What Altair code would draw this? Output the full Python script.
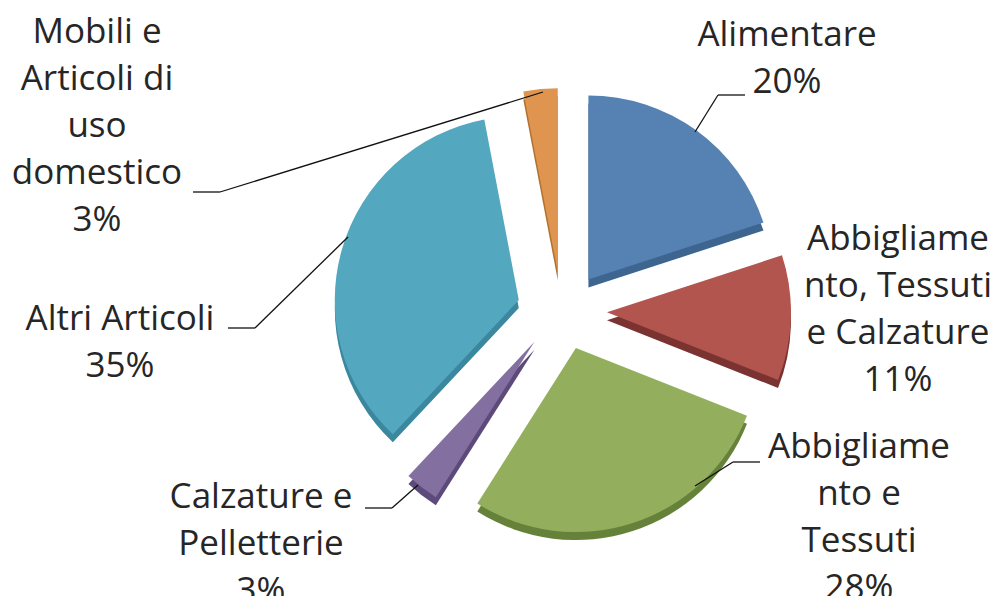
import altair as alt
import pandas as pd

# ---- data ----
categories = [
    "Alimentare",
    "Abbigliamento, Tessuti e Calzature",
    "Abbigliamento e Tessuti",
    "Calzature e Pelletterie",
    "Altri Articoli",
    "Mobili e Articoli di uso domestico",
]
values = [20, 11, 28, 3, 35, 3]
label_texts = [
    "Alimentare\n20%",
    "Abbigliame\nnto, Tessuti\ne Calzature\n11%",
    "Abbigliame\nnto e\nTessuti\n28%",
    "Calzature e\nPelletterie\n3%",
    "Altri Articoli\n35%",
    "Mobili e\nArticoli di\nuso\ndomestico\n3%",
]

# ---- styles / layout ----
face_colors = ["#5582b2", "#b3554f", "#93af5d", "#8470a0", "#53a8c0", "#df9550"]
side_colors = ["#3d6590", "#7a3330", "#66823a", "#5c4a7a", "#3a879e", "#b0722f"]
M = 8  # page margin (image coords -> chart coords)
CX, CY = 562 - M, 311 - M
R = 184
EX, EY = 45, 39
DEPTH = 8

# label anchors (image coords): center x, first-line baseline y
label_x = [787, 898, 859, 261, 120, 97]
label_y = [46, 250, 458, 508, 330, 43]

# leader lines (image coords)
seg_x = [695, 718, 695, 733, 392, 365, 255, 228, 220, 193]
seg_y = [132, 95, 486, 462, 508, 508, 328, 328, 192, 192]
seg_x2 = [718, 745, 733, 760, 418, 392, 348, 255, 543, 220]
seg_y2 = [95, 95, 462, 462, 485, 508, 237, 328, 92, 192]

df = pd.DataFrame({"cat": categories, "value": values, "order": list(range(len(values)))})

base = (
    alt.Chart(df)
    .transform_joinaggregate(total="sum(value)")
    .transform_window(cum="sum(value)", sort=[alt.SortField("order")], frame=[None, 0])
    .transform_calculate(t0="2*PI*(datum.cum-datum.value)/datum.total")
    .transform_calculate(t1="2*PI*datum.cum/datum.total")
    .transform_calculate(mid="(datum.t0+datum.t1)/2")
    .transform_calculate(px=f"{CX}+{EX}*sin(datum.mid)")
    .transform_calculate(py=f"{CY}-{EY}*cos(datum.mid)")
    .transform_calculate(pys=f"datum.py+{DEPTH}")
)

side = base.mark_arc(outerRadius=R).encode(
    x=alt.X("px:Q", scale=None),
    y=alt.Y("pys:Q", scale=None),
    theta=alt.Theta("t0:Q", scale=None, stack=None),
    theta2=alt.Theta2("t1:Q"),
    color=alt.Color("cat:N", scale=alt.Scale(domain=categories, range=side_colors), legend=None),
)

face = base.mark_arc(outerRadius=R).encode(
    x=alt.X("px:Q", scale=None),
    y=alt.Y("py:Q", scale=None),
    theta=alt.Theta("t0:Q", scale=None, stack=None),
    theta2=alt.Theta2("t1:Q"),
    color=alt.Color("cat:N", scale=alt.Scale(domain=categories, range=face_colors), legend=None),
)

seg_df = pd.DataFrame({
    "x": [v - M for v in seg_x], "y": [v - M for v in seg_y],
    "x2": [v - M for v in seg_x2], "y2": [v - M for v in seg_y2],
})
leaders = alt.Chart(seg_df).mark_rule(color="#111111", strokeWidth=1.3).encode(
    x=alt.X("x:Q", scale=None), y=alt.Y("y:Q", scale=None),
    x2="x2:Q", y2="y2:Q",
)

lab_df = pd.DataFrame({
    "text": label_texts,
    "lx": [v - M for v in label_x],
    "ly": [v - M for v in label_y],
})
labels = alt.Chart(lab_df).mark_text(
    font="Open Sans", fontSize=35, color="#262626", align="center",
    baseline="alphabetic", lineBreak="\n", lineHeight=47,
).encode(
    x=alt.X("lx:Q", scale=None), y=alt.Y("ly:Q", scale=None), text="text:N",
)

chart = (
    alt.layer(side, face, leaders, labels)
    .resolve_scale(color="independent")
    .properties(width=985, height=588, padding=0, autosize=alt.AutoSizeParams(type="none"))
    .configure_view(stroke=None)
)

chart.save("out.html", embed_options={"renderer": "svg", "actions": False})
